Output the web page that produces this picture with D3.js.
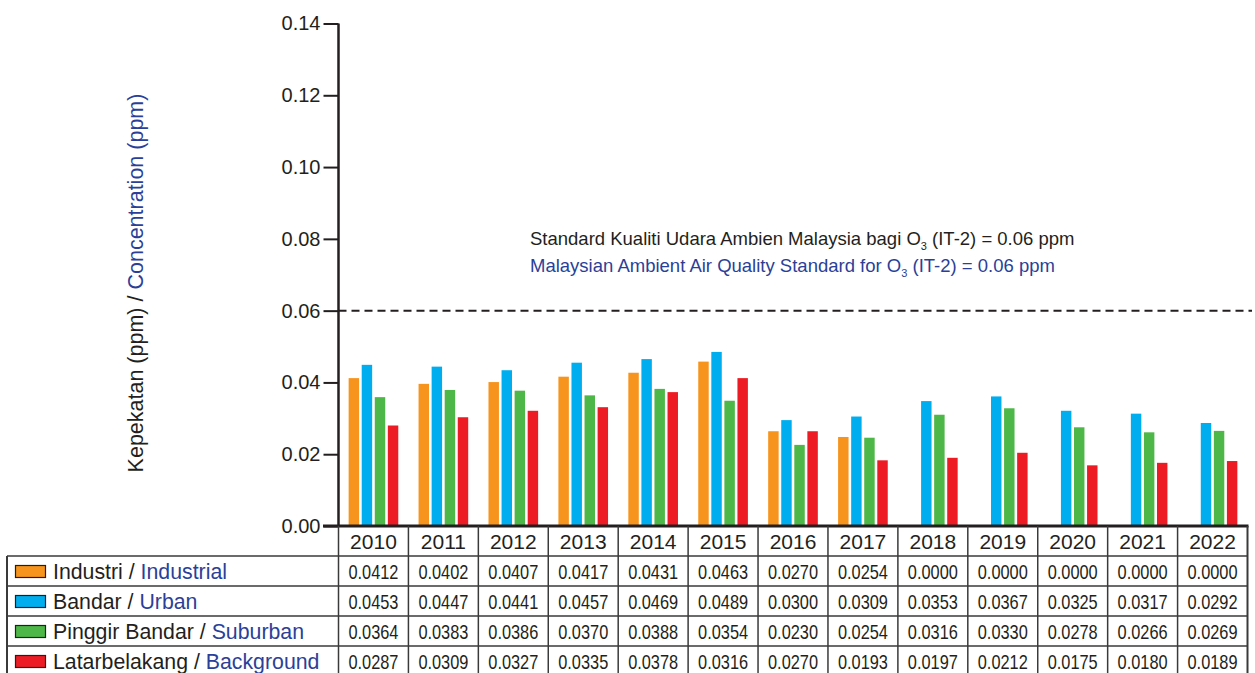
<!DOCTYPE html>
<html>
<head>
<meta charset="utf-8">
<script src="https://cdn.jsdelivr.net/npm/d3@7"></script>
<style>
    body { margin: 0; background: #fff; }
    text { font-family: "Liberation Sans", Arial, Helvetica, sans-serif; fill: #231f20; }
    .blue { fill: #2b3f98; }
</style>
</head>
<body>
<script>
(function(){

    //categories and series names
    var years = ["2010", "2011", "2012", "2013", "2014", "2015", "2016", "2017", "2018", "2019", "2020", "2021", "2022"];
    var seriesMalay = ["Industri", "Bandar", "Pinggir Bandar", "Latarbelakang"];
    var seriesEnglish = ["Industrial", "Urban", "Suburban", "Background"];
    var seriesColors = ["#f7941d", "#00aeef", "#4db848", "#ed1c24"];

    //values printed in the data table
    var industrialTable = [0.0412, 0.0402, 0.0407, 0.0417, 0.0431, 0.0463, 0.0270, 0.0254, 0.0000, 0.0000, 0.0000, 0.0000, 0.0000];
    var urbanTable = [0.0453, 0.0447, 0.0441, 0.0457, 0.0469, 0.0489, 0.0300, 0.0309, 0.0353, 0.0367, 0.0325, 0.0317, 0.0292];
    var suburbanTable = [0.0364, 0.0383, 0.0386, 0.0370, 0.0388, 0.0354, 0.0230, 0.0254, 0.0316, 0.0330, 0.0278, 0.0266, 0.0269];
    var backgroundTable = [0.0287, 0.0309, 0.0327, 0.0335, 0.0378, 0.0316, 0.0270, 0.0193, 0.0197, 0.0212, 0.0175, 0.0180, 0.0189];

    //bar heights as drawn in the chart
    var industrialBars = [0.0412, 0.0396, 0.0401, 0.0416, 0.0427, 0.0458, 0.0264, 0.0248, 0, 0, 0, 0, 0];
    var urbanBars = [0.0449, 0.0444, 0.0434, 0.0455, 0.0465, 0.0485, 0.0295, 0.0305, 0.0348, 0.0361, 0.0321, 0.0313, 0.0287];
    var suburbanBars = [0.0359, 0.0379, 0.0377, 0.0364, 0.0382, 0.0349, 0.0226, 0.0246, 0.0310, 0.0328, 0.0275, 0.0261, 0.0265];
    var backgroundBars = [0.0280, 0.0303, 0.0321, 0.0331, 0.0373, 0.0412, 0.0264, 0.0183, 0.0190, 0.0204, 0.0169, 0.0176, 0.0181];

    //y axis ticks and standard line
    var yTicks = [0, 0.02, 0.04, 0.06, 0.08, 0.10, 0.12, 0.14];
    var standardValue = 0.06;

    var tableRows = [industrialTable, urbanTable, suburbanTable, backgroundTable];
    var barRows = [industrialBars, urbanBars, suburbanBars, backgroundBars];

    var width = 1255,
        height = 673;

    var svg = d3.select("body")
        .append("svg")
        .attr("width", width)
        .attr("height", height);

    //scales
    var x = d3.scaleBand()
        .domain(years)
        .range([338.5, 1247.5])
        .paddingInner(0.29)
        .paddingOuter(0.145);

    var xs = d3.scaleBand()
        .domain(d3.range(seriesMalay.length))
        .range([0, x.bandwidth()])
        .paddingInner(0.2);

    var y = d3.scaleLinear()
        .domain([0, 0.14])
        .range([526, 23.5]);

    //bars
    var groups = svg.selectAll(".yearGroup")
        .data(years)
        .enter()
        .append("g")
        .attr("class", "yearGroup")
        .attr("transform", function(d){ return "translate(" + x(d) + ",0)"; });

    groups.selectAll("rect")
        .data(function(d, i){
            return barRows.map(function(row, s){ return {s: s, v: row[i]}; });
        })
        .enter()
        .append("rect")
        .filter(function(d){ return d.v > 0; })
        .attr("x", function(d){ return xs(d.s); })
        .attr("width", xs.bandwidth())
        .attr("y", function(d){ return y(d.v); })
        .attr("height", function(d){ return y(0) - y(d.v); })
        .style("fill", function(d){ return seriesColors[d.s]; });

    //standard line
    svg.append("line")
        .attr("x1", x.range()[0])
        .attr("x2", 1252)
        .attr("y1", y(standardValue))
        .attr("y2", y(standardValue))
        .style("stroke", "#231f20")
        .style("stroke-width", 2)
        .style("stroke-dasharray", "8,5");

    //standard annotation
    var note1 = svg.append("text")
        .attr("x", 530)
        .attr("y", 245)
        .style("font-size", "18.5px");
    note1.append("tspan").text("Standard Kualiti Udara Ambien Malaysia bagi O");
    note1.append("tspan").attr("dy", 5).style("font-size", "11px").text("3");
    note1.append("tspan").attr("dy", -5).text(" (IT-2) = 0.06 ppm");

    var note2 = svg.append("text")
        .attr("class", "blue")
        .attr("x", 530)
        .attr("y", 272)
        .style("font-size", "18.5px");
    note2.append("tspan").text("Malaysian Ambient Air Quality Standard for O");
    note2.append("tspan").attr("dy", 5).style("font-size", "11px").text("3");
    note2.append("tspan").attr("dy", -5).text(" (IT-2) = 0.06 ppm");

    //y axis
    var yAxis = d3.axisLeft(y)
        .tickValues(yTicks)
        .tickFormat(d3.format(".2f"))
        .tickSize(15)
        .tickPadding(3);

    var yAxisG = svg.append("g")
        .attr("transform", "translate(338.5,0)")
        .call(yAxis);
    yAxisG.select(".domain").remove();
    yAxisG.selectAll(".tick line").style("stroke", "#231f20").style("stroke-width", 2);
    yAxisG.selectAll(".tick text")
        .style("font-size", "20px")
        .style("font-family", "Liberation Sans, Arial, sans-serif")
        .style("fill", "#231f20");

    svg.append("line")
        .attr("x1", 338.5).attr("x2", 338.5)
        .attr("y1", y(0.14)).attr("y2", y(0) + 1)
        .style("stroke", "#231f20")
        .style("stroke-width", 2.5);

    //x baseline
    svg.append("line")
        .attr("x1", 323).attr("x2", 1248.5)
        .attr("y1", y(0)).attr("y2", y(0))
        .style("stroke", "#231f20")
        .style("stroke-width", 3);

    //y axis title
    var yTitle = svg.append("text")
        .attr("transform", "translate(143,283) rotate(-90)")
        .attr("text-anchor", "middle")
        .style("font-size", "21.5px");
    yTitle.append("tspan").text("Kepekatan (ppm) / ");
    yTitle.append("tspan").attr("class", "blue").text("Concentration (ppm)");

    //data table
    var rowTop = 556,
        rowH = 30,
        tableLeft = 7,
        lineColor = "#3a3a3a";

    //year header
    svg.selectAll(".yearLabel")
        .data(years)
        .enter()
        .append("text")
        .attr("class", "yearLabel")
        .attr("x", function(d){ return x(d) + x.bandwidth() / 2; })
        .attr("y", 548.5)
        .attr("text-anchor", "middle")
        .style("font-size", "21px")
        .text(function(d){ return d; });

    //row labels with swatches
    var rows = svg.selectAll(".tableRow")
        .data(tableRows)
        .enter()
        .append("g")
        .attr("class", "tableRow")
        .attr("transform", function(d, i){ return "translate(0," + (rowTop + i * rowH) + ")"; });

    rows.append("rect")
        .attr("x", 15.5)
        .attr("y", 9.5)
        .attr("width", 30)
        .attr("height", 12)
        .style("fill", function(d, i){ return seriesColors[i]; })
        .style("stroke", "#231f20")
        .style("stroke-width", 1.2);

    var rowLabel = rows.append("text")
        .attr("x", 53)
        .attr("y", 22.5)
        .style("font-size", "21.3px");
    rowLabel.append("tspan").text(function(d, i){ return seriesMalay[i] + " / "; });
    rowLabel.append("tspan").attr("class", "blue").text(function(d, i){ return seriesEnglish[i]; });

    //table values, narrowed to fit like the original condensed type
    rows.selectAll(".cellValue")
        .data(function(d){ return d; })
        .enter()
        .append("text")
        .attr("class", "cellValue")
        .attr("x", function(d, i){ return x(years[i]) + x.bandwidth() / 2 - 25; })
        .attr("y", 22.5)
        .attr("textLength", 50)
        .attr("lengthAdjust", "spacingAndGlyphs")
        .style("font-size", "21px")
        .text(function(d){ return d3.format(".4f")(d); });

    //grid lines of the table
    var colEdges = d3.range(years.length + 1).map(function(i){ return x.range()[0] + i * x.step(); });

    svg.selectAll(".colLine")
        .data(colEdges)
        .enter()
        .append("line")
        .attr("class", "colLine")
        .attr("x1", function(d){ return d; })
        .attr("x2", function(d){ return d; })
        .attr("y1", y(0))
        .attr("y2", height)
        .style("stroke", lineColor)
        .style("stroke-width", function(d, i){ return i == years.length ? 2 : 1.5; });

    svg.selectAll(".rowLine")
        .data(d3.range(tableRows.length))
        .enter()
        .append("line")
        .attr("class", "rowLine")
        .attr("x1", tableLeft)
        .attr("x2", colEdges[colEdges.length - 1])
        .attr("y1", function(d){ return rowTop + d * rowH; })
        .attr("y2", function(d){ return rowTop + d * rowH; })
        .style("stroke", lineColor)
        .style("stroke-width", 1.5);

    svg.append("line")
        .attr("x1", tableLeft).attr("x2", tableLeft)
        .attr("y1", rowTop).attr("y2", height)
        .style("stroke", lineColor)
        .style("stroke-width", 2);

})();
</script>
</body>
</html>
